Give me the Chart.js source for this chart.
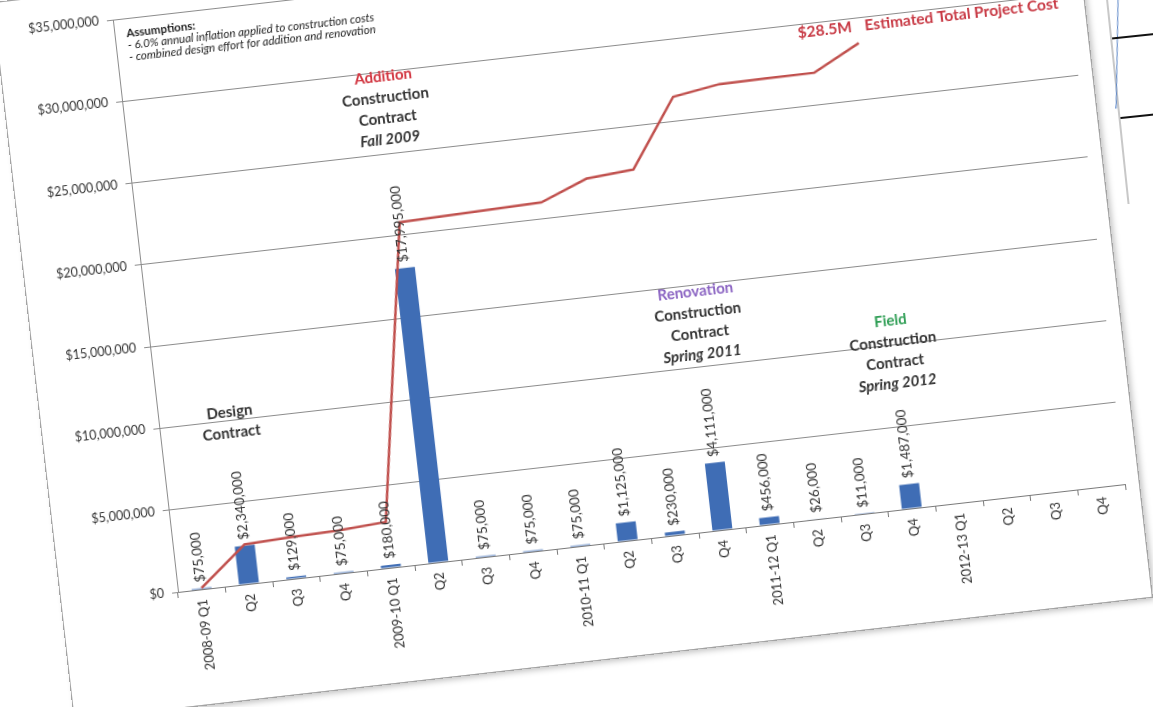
<!DOCTYPE html>
<html>
<head>
<meta charset="utf-8">
<title>Project cost by quarter</title>
<script src="https://cdn.jsdelivr.net/npm/chart.js@4.4.1/dist/chart.umd.min.js"></script>
<style>
  html, body {
    margin: 0;
    padding: 0;
    width: 1153px;
    height: 707px;
    overflow: hidden;
    background: #fff;
  }
  /* the printed chart sheet, photographed at a slight angle */
  #sheet {
    position: absolute;
    left: 61px;
    top: -14px;
    width: 1084px;
    height: 721px;
    background: #fff;
    outline: 1px solid #a3a3a3;
    box-shadow: 3px 3px 6px rgba(0, 0, 0, 0.25);
    transform-origin: 117px 606px;
    transform: rotate(-6.5deg);
  }
  #costChart {
    display: block;
  }
  /* corner of the next printed page, top right */
  #nextPage {
    position: absolute;
    left: 1104px;
    top: -20px;
    width: 90px;
    height: 225px;
    background: #fff;
    border-left: 2px solid #c8c8c8;
    transform: rotate(-6deg);
    transform-origin: 0 0;
  }
  #nextPage .rule {
    position: absolute;
    left: 0;
    right: 0;
    border-top: 2px solid #111;
  }
  #nextPage .blue {
    position: absolute;
    left: 12px;
    top: 0;
    height: 130px;
    border-left: 1.5px solid #5b86c8;
    transform: rotate(7deg);
    transform-origin: 0 0;
  }
</style>
</head>
<body>
<div id="sheet">
  <canvas id="costChart" width="1084" height="721"></canvas>
</div>
<div id="nextPage">
  <div class="blue"></div>
  <div class="rule" style="top: 58px"></div>
  <div class="rule" style="top: 138px"></div>
</div>

<script>
// quarters on the x axis
const quarters = [
  "2008-09 Q1", "Q2", "Q3", "Q4",
  "2009-10 Q1", "Q2", "Q3", "Q4",
  "2010-11 Q1", "Q2", "Q3", "Q4",
  "2011-12 Q1", "Q2", "Q3", "Q4",
  "2012-13 Q1", "Q2", "Q3", "Q4",
];

// spending in each quarter (bars)
const quarterSpend = [
  75000, 2340000, 129000, 75000,
  180000, 17995000, 75000, 75000,
  75000, 1125000, 230000, 4111000,
  456000, 26000, 11000, 1487000,
];

// running project cost (line)
const runningCost = [
  75000, 2415000, 2544000, 2619000,
  2799000, 20794000, 20869000, 20944000,
  21019000, 22144000, 22374000, 26485000,
  26941000, 26967000, 26978000, 28465000,
];

// y axis ticks
const yTicks = [0, 5000000, 10000000, 15000000, 20000000, 25000000, 30000000, 35000000];

const money = (v) => "$" + v.toLocaleString("en-US");

const barBlue = "#3f6db5";
const lineRed = "#c0504d";
const textGray = "#333333";

// value labels standing on top of each bar
const barLabels = {
  id: "barLabels",
  afterDatasetsDraw(chart) {
    const ctx = chart.ctx;
    const meta = chart.getDatasetMeta(1);
    ctx.save();
    ctx.font = "13.5px Lato";
    ctx.fillStyle = textGray;
    ctx.textAlign = "left";
    ctx.textBaseline = "middle";
    meta.data.forEach((bar, i) => {
      const v = quarterSpend[i];
      if (!v) return;
      ctx.save();
      ctx.translate(bar.x, bar.y - 6);
      ctx.rotate(-Math.PI / 2);
      ctx.fillText(money(v), 0, 0);
      ctx.restore();
    });
    ctx.restore();
  },
};

// text blocks placed on the plot
const notes = {
  id: "notes",
  afterDraw(chart) {
    const ctx = chart.ctx;
    const x = chart.scales.x;
    const y = chart.scales.y;
    const area = chart.chartArea;
    const step = 21;

    const blocks = [
      { at: 1, top: 10500000, lines: [["Design"], ["Contract"]] },
      { at: 5, top: 29700000, lines: [["Addition", "#d1323d"], ["Construction"], ["Contract"], ["Fall 2009", null, true]] },
      { at: 11, top: 14600000, lines: [["Renovation", "#8a63c2"], ["Construction"], ["Contract"], ["Spring 2011", null, true]] },
      { at: 15, top: 11500000, lines: [["Field", "#2f9e55"], ["Construction"], ["Contract"], ["Spring 2012", null, true]] },
    ];

    ctx.save();
    ctx.textAlign = "center";
    ctx.textBaseline = "middle";
    blocks.forEach((b) => {
      const cx = x.getPixelForValue(b.at);
      const cy = y.getPixelForValue(b.top);
      b.lines.forEach((ln, k) => {
        ctx.font = (ln[2] ? "italic " : "") + "bold 15px Lato";
        ctx.fillStyle = ln[1] || textGray;
        ctx.fillText(ln[0], cx, cy + k * step);
      });
    });

    // total cost callout next to the end of the line
    const last = runningCost[runningCost.length - 1];
    const tx = x.getPixelForValue(13.75);
    const ty = y.getPixelForValue(29500000);
    ctx.textAlign = "left";
    ctx.font = "bold 15.5px Lato";
    ctx.fillStyle = "#c83a45";
    const total = "$" + (last / 1000000).toFixed(1) + "M";
    ctx.fillText(total, tx, ty);
    ctx.fillText("Estimated Total Project Cost", tx + ctx.measureText(total).width + 13, ty);

    // assumptions box, top left of the plot
    const ax = area.left + 12;
    const ay = area.top + 15;
    ctx.fillStyle = "#222";
    ctx.font = "bold 11.5px Lato";
    ctx.fillText("Assumptions:", ax, ay);
    ctx.font = "italic 11.5px Lato";
    ctx.fillText("- 6.0% annual inflation applied to construction costs", ax, ay + 12);
    ctx.fillText("- combined design effort for addition and renovation", ax, ay + 24);
    ctx.restore();
  },
};

function drawChart() {
  Chart.defaults.font.family = "Lato";
  Chart.defaults.color = textGray;

  const ctx = document.getElementById("costChart").getContext("2d");
  new Chart(ctx, {
    data: {
      labels: quarters,
      datasets: [
        {
          type: "line",
          label: "Total project cost",
          data: runningCost,
          borderColor: lineRed,
          borderWidth: 2.5,
          pointRadius: 0,
          tension: 0,
          order: 0,
        },
        {
          type: "bar",
          label: "Quarterly cost",
          data: quarterSpend,
          backgroundColor: barBlue,
          categoryPercentage: 1,
          barPercentage: 0.42,
          order: 1,
        },
      ],
    },
    options: {
      responsive: false,
      animation: false,
      layout: {
        padding: { left: 0, right: 14, top: 30, bottom: 0 },
      },
      plugins: {
        legend: { display: false },
        tooltip: { enabled: false },
      },
      scales: {
        x: {
          afterFit: (s) => {
            s.height = 115;
          },
          grid: {
            offset: true,
            drawOnChartArea: false,
            tickLength: 6,
            color: "#7a7a7a",
          },
          border: { color: "#7a7a7a" },
          ticks: {
            autoSkip: false,
            minRotation: 90,
            maxRotation: 90,
            padding: 4,
            color: textGray,
            font: { size: 13 },
          },
        },
        y: {
          min: 0,
          max: yTicks[yTicks.length - 1],
          afterFit: (s) => {
            s.width = 117;
          },
          afterBuildTicks: (s) => {
            s.ticks = yTicks.map((v) => ({ value: v }));
          },
          grid: {
            color: "#8c8c8c",
            tickLength: 6,
          },
          border: { color: "#8c8c8c" },
          ticks: {
            padding: 8,
            color: textGray,
            font: { size: 12.5 },
            callback: (v) => money(v),
          },
        },
      },
    },
    plugins: [barLabels, notes],
  });
}

Promise.all([
  document.fonts.load("13px Lato"),
  document.fonts.load("bold 15px Lato"),
  document.fonts.load("italic 11.5px Lato"),
  document.fonts.load("italic bold 15px Lato"),
]).then(drawChart, drawChart);
</script>
</body>
</html>
